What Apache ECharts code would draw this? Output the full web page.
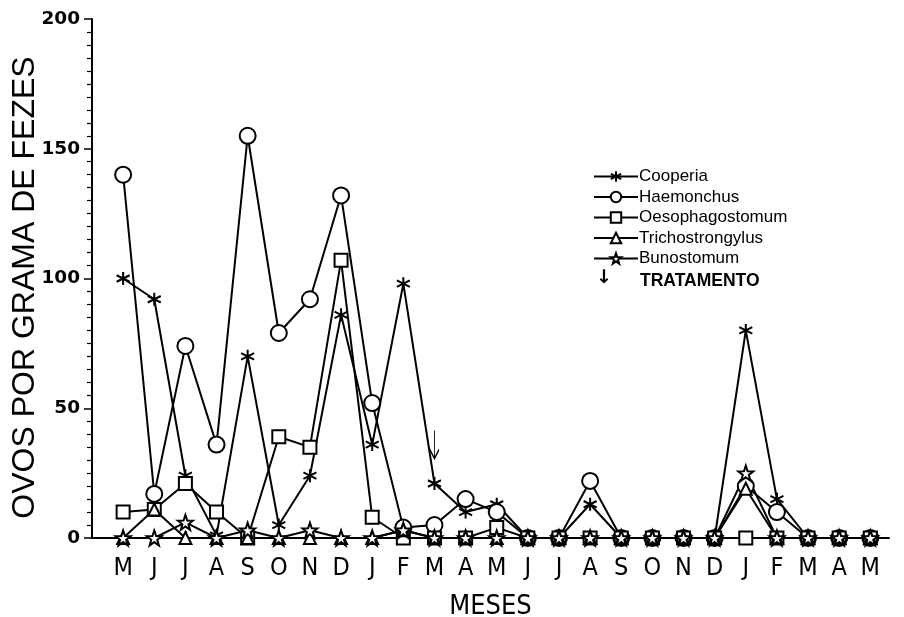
<!DOCTYPE html>
<html>
<head>
<meta charset="utf-8">
<script src="https://cdn.jsdelivr.net/npm/echarts@6/dist/echarts.min.js"></script>
<style>html,body{margin:0;padding:0;background:#fff}#c{width:904px;height:617px}</style>
</head>
<body>
<div id="c"></div>
<script>
const months = ['M','J','J','A','S','O','N','D','J','F','M','A','M','J','J','A','S','O','N','D','J','F','M','A','M'];
const cooperia = [100,92,24,1,70,5,24,86,36,98,21,10,13,0,0,13,0,0,0,0,80,15,0,0,0];
const haemonchus = [140,17,74,36,155,79,92,132,52,4,5,15,10,0,0,22,0,0,0,0,20,10,0,0,0];
const oesophagostomum = [10,11,21,10,0,39,35,107,8,0,0,0,4,0,0,0,0,0,0,0,0,0,0,0,0];
const trichostrongylus = [0,11,0,0,0,0,0,0,0,3,0,0,0,0,0,0,0,0,0,0,19,0,0,0,0];
const bunostomum = [0,0,6,0,3,0,3,0,0,3,0,0,0,0,0,0,0,0,0,0,25,0,0,0,0];
const treatmentIndex = 10;
const treatmentValue = 36;
const yTicks = [0,50,100,150,200];

const pairs = arr => arr.map((v,i)=>[i,v]);
const asterisk = 'path://M0,-10L0,10M-8.66,-5L8.66,5M-8.66,5L8.66,-5';
const star = 'path://M0,-10L2.35,-3.24L9.51,-3.09L3.8,1.24L5.88,8.09L0,4L-5.88,8.09L-3.8,1.24L-9.51,-3.09L-2.35,-3.24Z';
const arrow = 'path://M0,0L0,28M-4,19L0,28L4,19';
const font = 'Liberation Sans';
const cond = '"DejaVu Sans Condensed","Liberation Sans",sans-serif';

function mk(name, data, symbol, size, extra) {
  return Object.assign({
    name, type:'line', data: pairs(data), symbol, symbolSize: size,
    lineStyle:{color:'#000', width:2},
    itemStyle:{color:'#fff', borderColor:'#000', borderWidth:2},
    emphasis:{disabled:true}, animation:false
  }, extra||{});
}

const chart = echarts.init(document.getElementById('c'), null, {renderer:'canvas'});
chart.setOption({
  backgroundColor:'#fff',
  animation:false,
  grid:{left:92, top:19, width:797, height:519, containLabel:false, outerBoundsMode:'none'},
  legend:{
    orient:'vertical', left:588, top:163, itemWidth:44, itemHeight:13, itemGap:3.5,
    textStyle:{fontFamily:font, fontSize:17, color:'#000', padding:[0,0,0,-4]},
    data:['Cooperia','Haemonchus','Oesophagostomum','Trichostrongylus','Bunostomum']
  },
  graphic:[
    {type:'text', left:596, top:269, style:{text:'↓', font:'bold 19px "DejaVu Sans"', fill:'#000'}},
    {type:'text', left:640, top:272, style:{text:'TRATAMENTO', font:'bold 17.5px '+font, fill:'#000'}}
  ],
  xAxis:{
    type:'value', min:-1, max:24.6, interval:1,
    name:'MESES', nameLocation:'middle', nameGap:55, nameMoveOverlap:false,
    nameTextStyle:{fontFamily:cond, fontSize:27, color:'#000'},
    axisLine:{show:true, onZero:false, lineStyle:{color:'#000', width:2}},
    axisTick:{show:true, inside:true, length:7, lineStyle:{color:'#000', width:1.5}},
    splitLine:{show:false},
    axisLabel:{margin:18, fontFamily:cond, fontSize:25, color:'#000',
      showMaxLabel:false,
      formatter:v => (Number.isInteger(v) && v>=0 && v<months.length) ? months[v] : ''}
  },
  yAxis:{
    type:'value', min:0, max:200, interval:50,
    name:'OVOS POR GRAMA DE FEZES', nameLocation:'middle', nameGap:51, nameMoveOverlap:false,
    nameTextStyle:{fontFamily:font, fontSize:32, color:'#000', padding:[0,18,0,0]},
    axisLine:{show:true, onZero:false, lineStyle:{color:'#000', width:2}},
    axisTick:{show:true, length:8, lineStyle:{color:'#000', width:1.5}},
    minorTick:{show:true, splitNumber:10, length:5, lineStyle:{color:'#000', width:1.2}},
    splitLine:{show:false},
    axisLabel:{margin:12, fontFamily:'"DejaVu Sans"', fontWeight:'bold', fontSize:18.5, color:'#000',
      formatter:v => yTicks.includes(v) ? String(v) : ''}
  },
  series:[
    mk('Cooperia', cooperia, asterisk, 13, {
      markPoint:{symbol:arrow, symbolSize:[9,28], symbolOffset:[0,0],
        itemStyle:{color:'none', borderColor:'#000', borderWidth:1.5},
        label:{show:false},
        data:[{coord:[treatmentIndex, treatmentValue]}]}
    }),
    mk('Haemonchus', haemonchus, 'circle', 16),
    mk('Oesophagostomum', oesophagostomum, 'rect', 13),
    mk('Trichostrongylus', trichostrongylus, 'triangle', 12),
    mk('Bunostomum', bunostomum, star, 15)
  ]
});
</script>
</body>
</html>
